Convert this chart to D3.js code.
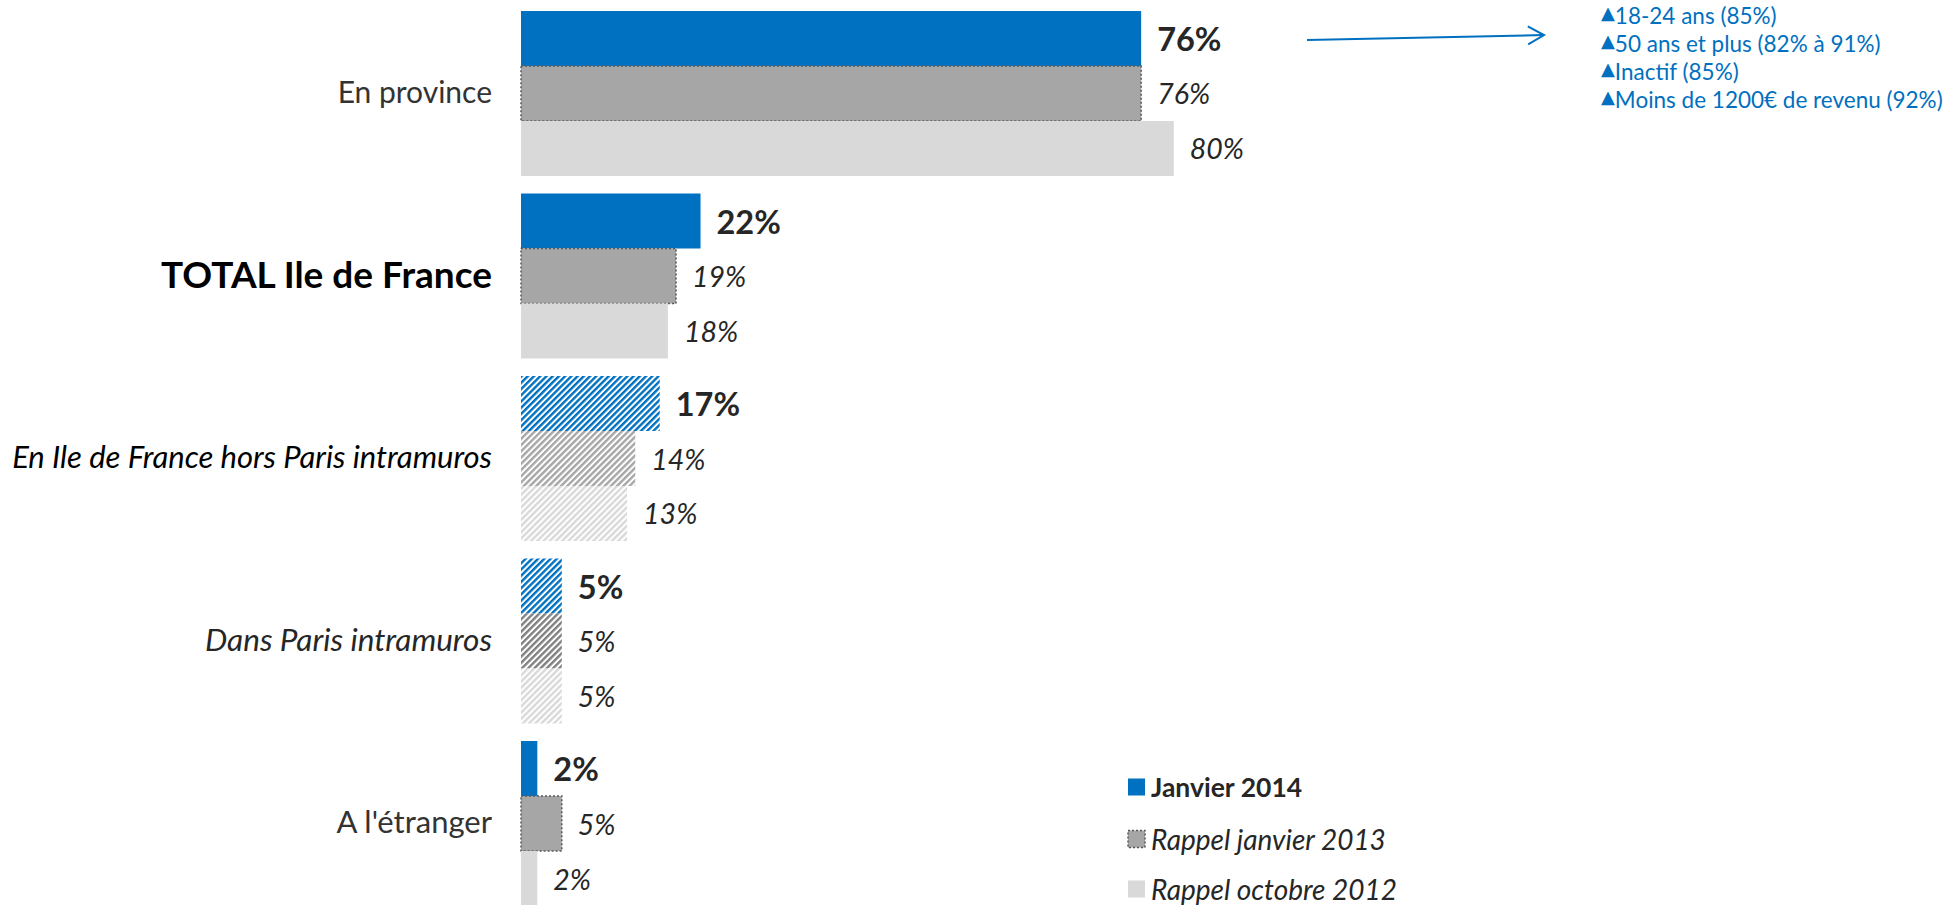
<!DOCTYPE html>
<html><head><meta charset="utf-8">
<script src="https://cdn.jsdelivr.net/npm/d3@7"></script>
<style>body{margin:0;background:#fff}svg{display:block}text{font-family:Lato,"Open Sans",sans-serif}</style>
</head><body><svg id="c" width="1960" height="905"></svg>
<script>
const categories = ["En province","TOTAL Ile de France","En Ile de France hors Paris intramuros","Dans Paris intramuros","A l'étranger"];
const seriesNames = ["Janvier 2014","Rappel janvier 2013","Rappel octobre 2012"];
const janvier2014 = [76,22,17,5,2];
const janvier2013 = [76,19,14,5,5];
const octobre2012 = [80,18,13,5,2];
const annotationLines = ["18-24 ans (85%)","50 ans et plus (82% à 91%)","Inactif (85%)","Moins de 1200€ de revenu (92%)"];

const seriesValues = [janvier2014, janvier2013, octobre2012];
const hatchedCats = new Set([categories[2], categories[3]]);
const fills = ["#0070C0","#A6A6A6","#D9D9D9"];
const svg = d3.select("#c");
const defs = svg.append("defs");

function hatch(id, color){
  const p = defs.append("pattern").attr("id",id).attr("patternUnits","userSpaceOnUse")
    .attr("width",4.4).attr("height",4.4).attr("patternTransform","rotate(45)");
  p.append("rect").attr("width",4.4).attr("height",4.4).attr("fill","#fff");
  p.append("rect").attr("width",2.4).attr("height",4.4).attr("fill",color);
}
hatch("h0","#0070C0"); hatch("h1","#A6A6A6"); hatch("h2","#D9D9D9"); hatch("h1d","#808080");

const x = d3.scaleLinear().domain([0,100]).range([521,1337]);
const y = d3.scaleBand().domain(categories).range([11,906]).paddingInner(0.0959).paddingOuter(0);
const yi = d3.scaleBand().domain(seriesNames).range([0,y.bandwidth()]);

const rows = [];
categories.forEach((c,ci)=>seriesNames.forEach((s,si)=>rows.push({c,ci,s,si,v:seriesValues[si][ci]})));

function fillFor(d){
  if(hatchedCats.has(d.c)){
    if(d.si===1 && d.ci===3) return "url(#h1d)";
    return "url(#h"+d.si+")";
  }
  return fills[d.si];
}

svg.append("g").selectAll("rect").data(rows).join("rect")
  .attr("x",x(0)).attr("y",d=>y(d.c)+yi(d.s))
  .attr("width",d=>x(d.v)-x(0)).attr("height",yi.bandwidth())
  .attr("fill",fillFor)
  .attr("stroke",d=>(d.si===1 && !hatchedCats.has(d.c))?"#595959":"none")
  .attr("stroke-width",1.5).attr("stroke-dasharray","2,2");

svg.append("g").selectAll("text").data(rows).join("text")
  .attr("x",d=>x(d.v)+16).attr("y",d=>y(d.c)+yi(d.s)+yi.bandwidth()/2)
  .attr("dominant-baseline","central")
  .attr("fill","#262626")
  .attr("font-size",d=>d.si===0?32.5:28.5)
  .attr("font-weight",d=>d.si===0?"bold":"normal")
  .attr("font-style",d=>d.si===0?"normal":"italic")
  .text(d=>d.v+"%");

// category axis
const catStyle = [
  {size:30,weight:"normal",style:"normal",fill:"#333"},
  {size:37,weight:"bold",style:"normal",fill:"#000"},
  {size:31,weight:"normal",style:"italic",fill:"#000"},
  {size:31.5,weight:"normal",style:"italic",fill:"#262626"},
  {size:31,weight:"normal",style:"normal",fill:"#333"}
];
const ax = svg.append("g").attr("transform","translate(492,0)")
  .call(d3.axisLeft(y).tickSize(0).tickPadding(0));
ax.select(".domain").remove();
ax.selectAll(".tick text").each(function(d,i){
  const st = catStyle[i];
  d3.select(this).attr("font-family","Lato, sans-serif").attr("font-size",st.size)
    .attr("font-weight",st.weight).attr("font-style",st.style).attr("fill",st.fill)
    .attr("dy","0.32em");
});

// legend
const lg = svg.append("g");
const legY = [787,839,889];
seriesNames.forEach((s,i)=>{
  lg.append("rect").attr("x",1128).attr("y",legY[i]-8.5).attr("width",17).attr("height",17)
    .attr("fill",fills[i]).attr("stroke",i===1?"#595959":"none").attr("stroke-width",1.5).attr("stroke-dasharray","2,2");
  lg.append("text").attr("x",1151).attr("y",legY[i]).attr("dominant-baseline","central")
    .attr("font-size",i===0?26.5:28).attr("fill","#262626")
    .attr("font-weight",i===0?"bold":"normal").attr("font-style",i===0?"normal":"italic").text(s);
});

// annotation arrow
defs.append("marker").attr("id","arr").attr("markerUnits","userSpaceOnUse")
  .attr("markerWidth",24).attr("markerHeight",24).attr("refX",18).attr("refY",12).attr("orient","auto")
  .append("path").attr("d","M2,3 L18,12 L2,21").attr("fill","none").attr("stroke","#0070C0").attr("stroke-width",2);
svg.append("line").attr("x1",1307).attr("y1",40).attr("x2",1544).attr("y2",35)
  .attr("stroke","#0070C0").attr("stroke-width",2).attr("marker-end","url(#arr)");

const an = svg.append("g");
annotationLines.forEach((t,i)=>{
  const tx = an.append("text").attr("x",1601).attr("y",14.5+i*28).attr("dominant-baseline","central")
    .attr("font-size",22.5).attr("fill","#0070C0");
  tx.append("tspan").attr("font-size",18).attr("font-family","DejaVu Sans").attr("dy","-0.12em").text("▲");
  tx.append("tspan").attr("dy","0.12em").text(t);
});
</script></body></html>
